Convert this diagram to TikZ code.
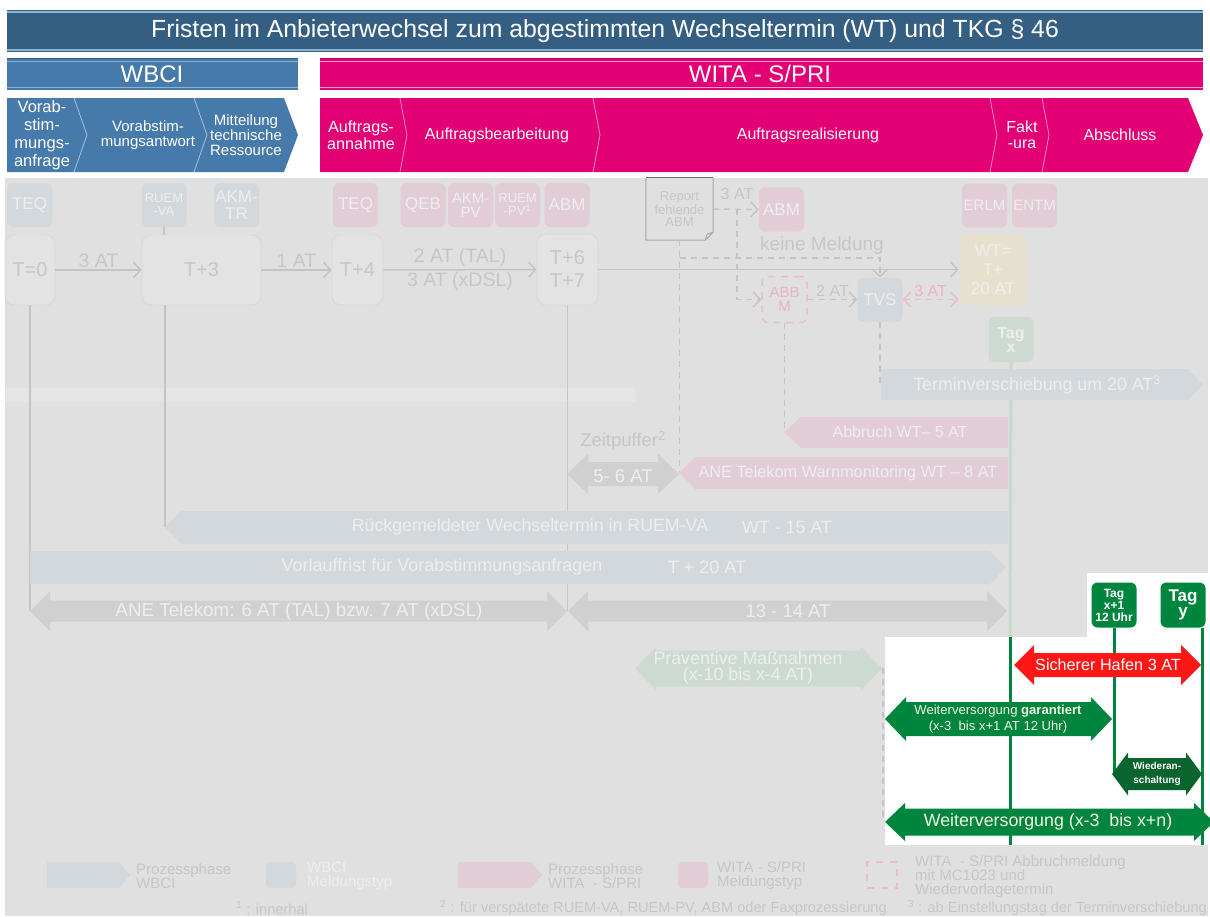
\documentclass[tikz,border=0pt]{standalone}
\usepackage{fontspec}
\setmainfont{Liberation Sans}
\usetikzlibrary{arrows.meta,positioning}

\definecolor{cTitle}{RGB}{52,94,130}
\definecolor{cStripe}{RGB}{140,180,215}
\definecolor{cWbci}{RGB}{70,122,170}
\definecolor{cDivBlue}{RGB}{165,195,220}
\definecolor{cMagenta}{RGB}{226,0,116}
\definecolor{cMagDark}{RGB}{185,0,95}
\definecolor{cPinkStripe}{RGB}{245,160,200}
\definecolor{cDivMag}{RGB}{242,140,190}
\definecolor{cBg}{RGB}{224,224,224}
\definecolor{cBand}{RGB}{229,229,229}
\definecolor{cFblue}{RGB}{211,216,220}
\definecolor{cFpink}{RGB}{226,205,214}
\definecolor{cFgrey}{RGB}{208,208,208}
\definecolor{cFgreen}{RGB}{205,218,209}
\definecolor{cFgreenLine}{RGB}{200,216,205}
\definecolor{cFyellow}{RGB}{230,224,207}
\definecolor{cFtext}{RGB}{238,238,238}
\definecolor{cLtext}{RGB}{198,198,198}
\definecolor{cLine}{RGB}{196,196,196}
\definecolor{cTfill}{RGB}{227,227,227}
\definecolor{cTdraw}{RGB}{216,216,216}
\definecolor{cDoc}{RGB}{170,170,170}
\definecolor{cDocTop}{RGB}{105,105,105}
\definecolor{cPinkDash}{RGB}{234,188,204}
\definecolor{cPinkText}{RGB}{236,178,196}
\definecolor{cGreen}{RGB}{0,133,62}
\definecolor{cDgreen}{RGB}{10,100,45}
\definecolor{cRed}{RGB}{255,22,22}
\definecolor{cCream}{RGB}{245,245,228}

% double headed bar: colour, x left, x right, y mid, half body, half head, head length
\newcommand{\dblarrow}[7]{%
  \fill[#1] (#2,#4) -- (#2+#7,#4-#6) -- (#2+#7,#4-#5) -- (#3-#7,#4-#5)
    -- (#3-#7,#4-#6) -- (#3,#4) -- (#3-#7,#4+#6) -- (#3-#7,#4+#5)
    -- (#2+#7,#4+#5) -- (#2+#7,#4+#6) -- cycle;}
% one headed bars: colour, x left, x right, y top, y bottom, head length
\newcommand{\rgtarrow}[6]{%
  \fill[#1] (#2,#4) -- (#3-#6,#4) -- (#3,{(#4+#5)/2}) -- (#3-#6,#5) -- (#2,#5) -- cycle;}
\newcommand{\lftarrow}[6]{%
  \fill[#1] (#2,{(#4+#5)/2}) -- (#2+#6,#4) -- (#3,#4) -- (#3,#5) -- (#2+#6,#5) -- cycle;}

\tikzset{
  headtext/.style={text=white, font=\fontsize{24}{24}\selectfont, inner sep=0pt},
  phase/.style={text=white, font=\fontsize{15}{15}\selectfont, align=center, inner sep=0pt},
  msgbox/.style={rounded corners=6pt, minimum width=45pt, minimum height=44pt,
    inner sep=0pt, align=center, text=cFtext, font=\fontsize{15}{14}\selectfont},
  msgblue/.style={msgbox, fill=cFblue},
  msgpink/.style={msgbox, fill=cFpink},
  bigmsg/.style={font=\fontsize{17}{17}\selectfont},
  timebox/.style={rounded corners=9pt, draw=cTdraw, fill=cTfill, line width=0.8pt,
    inner sep=0pt, align=center, text=cLtext, font=\fontsize{20}{23}\selectfont},
  faint/.style={text=cLtext, font=\fontsize{16}{18}\selectfont, inner sep=2pt, align=center},
  tlabel/.style={faint, font=\fontsize{19.5}{20}\selectfont},
  bartext/.style={text=cFtext, font=\fontsize{17.8}{17}\selectfont, inner sep=0pt, align=center},
  timeline/.style={draw=cLine, line width=1.5pt},
  dashline/.style={draw=cLine, line width=1.5pt, dash pattern=on 6pt off 5pt},
  tagbox/.style={rounded corners=6pt, fill=cGreen, minimum width=45pt, minimum height=45pt,
    inner sep=0pt, align=center, text=white, font=\bfseries\fontsize{12}{12}\selectfont},
  greenline/.style={draw=cGreen, line width=3pt},
  legtext/.style={text=cLtext, font=\fontsize{15}{14}\selectfont, align=left, anchor=west, inner sep=0pt},
  foot/.style={text=cLtext, font=\fontsize{14.6}{14}\selectfont, inner sep=0pt},
  >={Straight Barb[length=7pt,width=15pt]}
}

\begin{document}
\begin{tikzpicture}[x=1pt,y=-1pt]
\useasboundingbox (0,0) rectangle (1210,916);

% title and the two system bars
\fill[cTitle] (7,10) rectangle (1203,52);
\draw[cStripe, line width=1.5pt] (7,12) -- (1203,12) (7,50) -- (1203,50);
\node[text=white, font=\fontsize{24.8}{25}\selectfont, inner sep=0pt] (title) at (605,31)
  {Fristen im Anbieterwechsel zum abgestimmten Wechseltermin (WT) und TKG § 46};

\fill[cWbci] (7,58) rectangle (298,90);
\draw[cTitle, line width=1pt] (7,58.5) -- (298,58.5);
\draw[cStripe, line width=1pt] (7,61) -- (298,61) (7,87.5) -- (298,87.5);
\node[headtext] (wbci) at (152,74) {WBCI};

\fill[cMagenta] (320,58) rectangle (1203,90);
\draw[cMagDark, line width=1pt] (320,58.5) -- (1203,58.5);
\draw[cPinkStripe, line width=1pt] (320,61) -- (1203,61) (320,87.5) -- (1203,87.5);
\node[headtext] (wita) at (760,74) {WITA - S/PRI};

% phases
\fill[cWbci] (7,98) -- (284,98) -- (298,135) -- (284,172) -- (7,172) -- cycle;
\draw[cDivBlue, line width=0.8pt] (74,98) -- (87,135) -- (74,172) (194,98) -- (207,135) -- (194,172);
\node[phase, font=\fontsize{16.5}{18}\selectfont] (anfrage) at (42,135) {Vorab-\\stim-\\mungs-\\anfrage};
\node[phase] (antwort) at (148,135) {Vorabstim-\\mungsantwort};
\node[phase] (ressource) at (246,135) {Mitteilung\\technische\\Ressource};

\fill[cMagenta] (320,98) -- (1188,98) -- (1203,135) -- (1188,172) -- (320,172) -- cycle;
\draw[cDivMag, line width=0.8pt] (400,98) -- (407,135) -- (400,172) (593,98) -- (600,135) -- (593,172)
  (990,98) -- (997,135) -- (990,172) (1042,98) -- (1049,135) -- (1042,172);
\node[phase, font=\fontsize{16.2}{16.5}\selectfont] (annahme) at (361,135) {Auftrags-\\annahme};
\node[phase, font=\fontsize{16}{16}\selectfont] (bearbeitung) at (497,135) {Auftragsbearbeitung};
\node[phase, font=\fontsize{16}{16}\selectfont] (realisierung) at (808,135) {Auftragsrealisierung};
\node[phase, font=\fontsize{16}{16}\selectfont] (faktura) at (1022,135) {Fakt\\-ura};
\node[phase, font=\fontsize{16}{16}\selectfont] (abschluss) at (1120,135) {Abschluss};

% faded background
\fill[cBg] (5,178) rectangle (1208,916);
\fill[cBand] (5,388) rectangle (635,402);

% messages
\node[msgblue, bigmsg] (teqA) at (29.5,205) {TEQ};
\node[msgblue, font=\fontsize{13}{13}\selectfont] (ruemva) at (164,205) {RUEM\\-VA};
\node[msgblue, bigmsg] (akmtr) at (236.5,205) {AKM-\\TR};
\node[msgpink, bigmsg] (teqB) at (355.5,205) {TEQ};
\node[msgpink, bigmsg] (qeb) at (423,205) {QEB};
\node[msgpink] (akmpv) at (470.5,205) {AKM-\\PV};
\node[msgpink, font=\fontsize{13}{13}\selectfont] (ruempv) at (517.5,205) {RUEM\\-PV\textsuperscript{1}};
\node[msgpink, bigmsg] (abmA) at (567,205) {ABM};
\node[msgpink, bigmsg] (abmB) at (781.5,209.5) {ABM};
\node[msgpink] (erlm) at (984.5,205.5) {ERLM};
\node[msgpink] (entm) at (1034.5,205.5) {ENTM};

\node[text=cLtext, font=\fontsize{13}{12}\selectfont, align=center, inner sep=0pt,
  minimum width=67pt, minimum height=62pt] (report) at (679.5,209) {Report\\fehlende\\ABM};
\draw[cDoc, line width=1pt] (report.north east) -- ([yshift=8pt]report.south east)
  -- ([xshift=-8pt]report.south east) -- (report.south west) -- (report.north west);
\draw[cDoc, line width=1pt] ([yshift=8pt]report.south east) -- ([xshift=-6pt,yshift=6pt]report.south east)
  -- ([xshift=-8pt]report.south east);
\draw[cDocTop, line width=1.3pt] (report.north west) -- (report.north east);

% time line
\node[timebox, minimum width=50pt, minimum height=70pt] (t0) at (30,270) {T=0};
\node[timebox, minimum width=119pt, minimum height=70pt] (t3) at (201.5,270) {T+3};
\node[timebox, minimum width=51pt, minimum height=70pt] (t4) at (357.5,270) {T+4};
\node[timebox, minimum width=61pt, minimum height=71pt] (t67) at (567.5,269.5) {T+6\\T+7};
\node[timebox, fill=cFyellow, draw=none, text=cFtext, font=\fontsize{17}{19}\selectfont,
  minimum width=68pt, minimum height=71pt] (wt) at (993,269.5) {WT=\\T+\\20 AT};

\draw[timeline,->] (t0) -- (t3) node[midway, above, tlabel] (at3) {3 AT};
\draw[timeline,->] (t3) -- (t4) node[midway, above, tlabel] (at1) {1 AT};
\draw[timeline,->] (t4) -- (t67) node[midway, above, tlabel] (attal) {2 AT (TAL)}
  node[midway, below, tlabel] (atdsl) {3 AT (xDSL)};
\draw[timeline,->] (t67) -- (wt);

\node[msgbox, fill=none, draw=cPinkDash, dash pattern=on 7pt off 6pt, line width=1.5pt,
  text=cPinkText, minimum height=46pt] (abbm) at (784.5,299.5) {ABB\\M};
\node[msgblue, bigmsg] (tvs) at (880,299.5) {TVS};
\node[tagbox, fill=cFgreen, text=cFtext, font=\bfseries\fontsize{16}{14}\selectfont] (tagx) at (1011,339.5) {Tag\\x};

\coordinate (branch) at (737,209);
\coordinate (nomsg) at (679.5,258);
\draw[dashline,->] (report.east) -- (abmB.west);
\node[faint] (at3b) at (737,194) {3 AT};
\draw[dashline,->] (branch) -- (branch |- abbm.west) -- (abbm.west);
\draw[dashline,->] (nomsg) -- (nomsg -| tvs.north) -- (tvs.north);
\node[faint, font=\fontsize{19}{19}\selectfont] (keine) at (822,246) {keine Meldung};
\draw[dashline,->] (abbm.east) -- (tvs.west) node[midway, above, faint] (at2) {2 AT};
\draw[dashline, draw=cPinkDash, <->] (tvs.east) -- (tvs.east -| wt.west)
  node[midway, above, faint, text=cPinkText] (at3c) {3 AT};

% drop lines
\coordinate (anetip) at (30,611);
\coordinate (ruecktip) at (165,527);
\coordinate (endtip) at (567.5,611);
\coordinate (warntip) at (679.5,473);
\coordinate (abbrtip) at (784.5,432);
\coordinate (termtail) at (880,385);
\coordinate (whitetop) at (1010,637);
\coordinate (praevtip) at (883,668);
\coordinate (wvtip) at (883,822);
\draw[timeline] (t0.south) -- (t0.south |- anetip);
\draw[timeline] (ruemva.south) -- (ruemva.south |- t3.north);
\draw[timeline] (ruecktip |- t3.south) -- (ruecktip);
\draw[timeline] (t67.south) -- (endtip);
\draw[dashline] (report.south) -- (warntip);
\draw[dashline] (abbm.south) -- (abbrtip);
\draw[dashline] (tvs.south) -- (termtail);
\draw[dashline] (praevtip) -- (wvtip);
\draw[draw=cFgreenLine, line width=3pt] (tagx.south) -- (whitetop);

% deadlines
\rgtarrow{cFblue}{881}{1203}{369}{400}{15}
\node[bartext] (term) at (1037,385) {Terminverschiebung um 20 AT\textsuperscript{3}};
\lftarrow{cFpink}{784}{1008}{417}{448}{17}
\node[bartext, font=\fontsize{16}{16}\selectfont] (abbr) at (900,432) {Abbruch WT-- 5 AT};
\node[faint, font=\fontsize{18.5}{18}\selectfont] (zeit) at (623,441) {Zeitpuffer\textsuperscript{2}};
\dblarrow{cFgrey}{567}{679}{474}{12}{20}{21}
\node[bartext, font=\fontsize{18.5}{18}\selectfont] (puffer) at (623,476) {5- 6 AT};
\lftarrow{cFpink}{679}{1008}{457}{489}{16}
\node[bartext, font=\fontsize{16.3}{16}\selectfont] (warn) at (848,473) {ANE Telekom Warnmonitoring WT -- 8 AT};
\lftarrow{cFblue}{165}{1008}{511}{544}{16}
\node[bartext] (rueck) at (530,527) {Rückgemeldeter Wechseltermin in RUEM-VA};
\node[bartext] (rueckwt) at (787,527) {WT - 15 AT};
\rgtarrow{cFblue}{30}{1006}{551}{584}{16}
\node[bartext, font=\fontsize{18}{18}\selectfont] (vorl) at (442,567) {Vorlauffrist für Vorabstimmungsanfragen};
\node[bartext, font=\fontsize{18}{18}\selectfont] (vorlt) at (707,567) {T + 20 AT};
\dblarrow{cFgrey}{30}{567}{611}{10.5}{20}{20}
\node[bartext, font=\fontsize{18.8}{18}\selectfont] (ane) at (299,612) {ANE Telekom: 6 AT (TAL) bzw. 7 AT (xDSL)};
\dblarrow{cFgrey}{568}{1007}{611}{10.5}{20}{20}
\node[bartext, font=\fontsize{18.5}{18}\selectfont] (rest) at (788,611) {13 - 14 AT};
\dblarrow{cFgreen}{635}{882}{668.5}{18}{21.5}{21}
\node[bartext, font=\fontsize{17.8}{16}\selectfont] (praev) at (748,668) {Präventive Maßnahmen\\(x-10 bis x-4 AT)};

% safe harbour
\fill[white] (885,637) rectangle (1210,845);
\fill[white] (1087,573) rectangle (1210,637);
\node[tagbox] (tagx1) at (1114,605) {Tag\\x+1\\12 Uhr};
\node[tagbox, font=\bfseries\fontsize{17}{15}\selectfont] (tagy) at (1183,605) {Tag\\y};
\coordinate (xbottom) at (1010,845);
\coordinate (x1bottom) at (1113,776);
\coordinate (ybottom) at (1202,845);
\draw[greenline] (whitetop) -- (xbottom);
\draw[greenline] (tagx1.south) -- (tagx1.south |- x1bottom);
\draw[greenline] (ybottom |- tagy.south) -- (ybottom);

\dblarrow{cRed}{1014}{1201}{665}{12}{20}{20}
\node[text=white, font=\fontsize{16.2}{16}\selectfont, inner sep=0pt] (hafen) at (1108,665) {Sicherer Hafen 3 AT};
\dblarrow{cGreen}{885}{1112}{719}{17}{22}{21}
\node[text=cCream, font=\fontsize{13.1}{16}\selectfont, align=center, inner sep=0pt] (garant) at (998,719)
  {Weiterversorgung \textbf{garantiert}\\(x-3~~bis x+1 AT 12 Uhr)};
\dblarrow{cDgreen}{1112}{1202}{774}{16}{21.5}{16}
\node[text=white, font=\bfseries\fontsize{10}{14}\selectfont, align=center, inner sep=0pt] (wieder) at (1157,774)
  {Wiederan-\\schaltung};
\dblarrow{cGreen}{885}{1214}{822}{13.5}{19}{20}
\node[text=cCream, font=\fontsize{17.8}{17}\selectfont, inner sep=0pt] (wv) at (1048,822)
  {Weiterversorgung (x-3~~bis x+n)};

% legend
\rgtarrow{cFblue}{47}{130}{862}{888}{11}
\node[legtext] (lwbci) at (136,876) {Prozessphase\\WBCI};
\node[fill=cFblue, rounded corners=4pt, minimum width=30pt, minimum height=26pt] (lsqb) at (281,875) {};
\node[legtext, text=cFtext] (lwbcim) at (307,876) {WBCI\\Meldungstyp};
\rgtarrow{cFpink}{458}{542}{862}{888}{11}
\node[legtext] (lwita) at (548,876) {Prozessphase\\WITA~ - S/PRI};
\node[fill=cFpink, rounded corners=4pt, minimum width=30pt, minimum height=26pt] (lsqp) at (693,875) {};
\node[legtext] (lwitam) at (717,876) {WITA - S/PRI\\Meldungstyp};
\node[draw=cPinkDash, dash pattern=on 7pt off 7pt, line width=1.5pt, minimum width=30pt,
  minimum height=26pt] (lsqd) at (882,875) {};
\node[legtext] (labbr) at (915,877) {WITA~ - S/PRI Abbruchmeldung\\mit MC1023 und\\Wiedervorlagetermin};

\node[foot, anchor=west] (fn1) at (236,908) {\textsuperscript{1} : innerhal};
\node[foot, anchor=west] (fn2) at (440,908) {\textsuperscript{2} : für verspätete RUEM-VA, RUEM-PV, ABM oder Faxprozessierung};
\node[foot, anchor=east] (fn3) at (1207,908) {\textsuperscript{3} : ab Einstellungstag der Terminverschiebung};
\end{tikzpicture}
\end{document}
